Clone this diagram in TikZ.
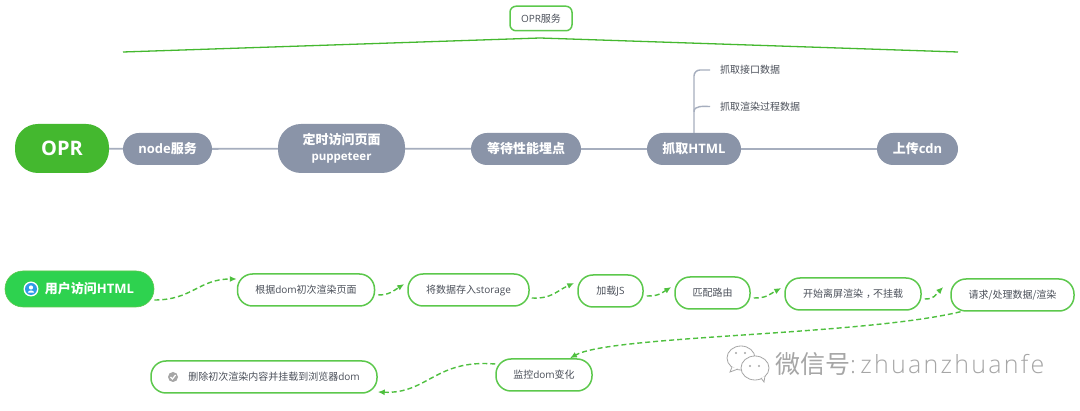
\documentclass[tikz,border=0pt]{standalone}
\usepackage{fontspec}
\usetikzlibrary{arrows.meta,calc}
\setmainfont{Open Sans}
\newfontfamily\cjk{Noto Sans CJK SC}
\newfontfamily\wmlatin[LetterSpace=9]{Open Sans Light}
\newcommand\zh[1]{{\cjk #1}}
\definecolor{grn}{HTML}{5CC84C}
\definecolor{oprgreen}{HTML}{44B82F}
\definecolor{usergreen}{HTML}{2ED24F}
\definecolor{slate}{HTML}{8A94A8}
\definecolor{linegray}{HTML}{A6AEBE}
\definecolor{ink}{HTML}{4A4F59}
\definecolor{dash}{HTML}{4FC03F}
\definecolor{wm}{HTML}{A6A6A6}
\definecolor{iconblue}{HTML}{2E9BE6}
\tikzset{
  x=1pt,y=-1pt,
  pill/.style={inner sep=0pt,align=center,rounded corners=#1},
  root/.style={pill=23pt,fill=oprgreen,text=white,font=\fontsize{20}{22}\selectfont\bfseries,minimum width=94pt,minimum height=49pt},
  main/.style={pill=16pt,fill=slate,text=white,font=\fontsize{13}{15}\selectfont\bfseries,minimum height=32pt},
  bigmain/.style={pill=23pt,fill=slate,text=white,font=\fontsize{13}{17}\selectfont\bfseries,minimum height=49pt},
  flow/.style={pill=15pt,draw=grn,line width=1.5pt,fill=white,text=ink,font=\fontsize{10}{12}\selectfont,minimum height=32pt},
  start/.style={pill=18pt,fill=usergreen,draw=grn,line width=.6pt,text=white,font=\fontsize{13}{15}\selectfont\bfseries,minimum height=36pt},
  leaf/.style={inner sep=0pt,anchor=west,text=ink,font=\fontsize{10}{12}\selectfont},
  link/.style={draw=linegray,line width=1.8pt},
  bracket/.style={draw=oprgreen,line width=1.3pt},
  dashlink/.style={draw=dash,line width=1.4pt,dash pattern=on 5pt off 3pt,-{Latex[length=7pt,width=6pt]}},
}
\begin{document}
\begin{tikzpicture}
\path[use as bounding box,fill=white] (0,0) rectangle (1080,411);

% top bracket
\node[flow,pill=6pt,minimum width=62pt,minimum height=24.5pt] (svc) at (541,18.5) {OPR\zh{服务}};
\coordinate (bl) at (123,52);
\coordinate (bm) at (540,38);
\coordinate (br) at (958,52);
\draw[bracket] (bl) -- (bm) -- (br);

% main row
\node[root] (opr) at (62,148.5) {OPR};
\node[main,minimum width=89pt] (node) at (167.5,149) {node\zh{服务}};
\node[bigmain,minimum width=127pt] (visit) at (341.5,148.5) {\raisebox{-1.5pt}{\zh{定时访问页面}}\\[-1pt]\raisebox{-1.5pt}{\fontsize{11.5}{14}\selectfont puppeteer}};
\node[main,minimum width=110pt] (wait) at (526,149) {\zh{等待性能埋点}};
\node[main,minimum width=94pt] (html) at (694,149) {\zh{抓取}HTML};
\node[main,minimum width=81pt] (cdn) at (917.5,149) {\zh{上传}cdn};
\draw[link] (opr) -- (node);
\draw[link] (node) -- (visit);
\draw[link] (visit) -- (wait);
\draw[link] (wait) -- (html);
\draw[link] (html) -- (cdn);

% leaves
\node[leaf] (t1) at (720,70) {\zh{抓取接口数据}};
\node[leaf] (t2) at (720,106.5) {\zh{抓取渲染过程数据}};
\draw[link,line width=1.4pt,rounded corners=6pt] (html.north) |- ([xshift=-10pt]t1.west);
\draw[link,line width=1.4pt] ($(html.north)+(0,-21)$) to[out=90,in=180] ([xshift=-10pt]t2.west);

% flow row
\node[start,minimum width=149pt] (user) at (79.5,289) {\hspace*{20pt}\zh{用户访问}HTML};
\node[flow,minimum width=137pt] (f1) at (306,290) {\zh{根据}dom\zh{初次渲染页面}};
\node[flow,minimum width=121pt] (f2) at (468.5,290) {\zh{将数据存入}storage};
\node[flow,minimum width=65pt] (f3) at (610.5,291) {\zh{加载}JS};
\node[flow,minimum width=75pt] (f4) at (712.5,293) {\zh{匹配路由}};
\node[flow,minimum width=136pt] (f5) at (853,294) {\zh{开始离屏渲染\kern3pt，\kern-3pt不挂载}};
\node[flow,minimum width=123pt] (f6) at (1012.5,295) {\zh{请求/处理数据/渲染}};
\node[flow,minimum width=96pt] (f7) at (544,375) {\zh{监控}dom\zh{变化}};
\node[flow,minimum width=226pt] (f8) at (264,377) {\hspace*{20pt}\zh{删除初次渲染内容并挂载到浏览器}dom};

% icons
\node[circle,inner sep=0pt,minimum size=15pt,fill=white] (ui) at (31,289) {};
\node[circle,inner sep=0pt,minimum size=12pt,fill=iconblue] (uc) at (ui) {};
\fill[white] ($(uc)+(0,-1.5)$) circle (2.1pt);
\fill[white] ($(uc)+(-3.2,3.6)$) .. controls ($(uc)+(-3,0.8)$) and ($(uc)+(3,0.8)$) .. ($(uc)+(3.2,3.6)$) -- cycle;
\node[circle,inner sep=0pt,minimum size=10pt,fill=black!35] (ci) at (173,377) {};
\draw[white,line width=1.2pt] ($(ci)+(-2.5,0)$) -- ($(ci)+(-0.6,2)$) -- ($(ci)+(2.6,-2)$);

% dashed connectors
\draw[dashlink] ([shift={(0,11)}]user.east) .. controls +(38,0) and +(-38,0) .. ([shift={(0,-11)}]f1.west);
\draw[dashlink] ([shift={(3,5)}]f1.east) .. controls +(11,0) and +(-11,7) .. ([shift={(-3,-6)}]f2.west);
\draw[dashlink] ([shift={(2,8)}]f2.east) .. controls +(20,1) and +(-18,8) .. ([shift={(-3,-8)}]f3.west);
\draw[dashlink] ([shift={(3,5)}]f3.east) .. controls +(11,0) and +(-11,7) .. ([shift={(-3,-6)}]f4.west);
\draw[dashlink] ([shift={(3,5)}]f4.east) .. controls +(13,0) and +(-13,7) .. ([shift={(-3,-6)}]f5.west);
\draw[dashlink] ([shift={(3,5)}]f5.east) .. controls +(10,0) and +(-8,8) .. ([shift={(-7,-8)}]f6.west);
\draw[dashlink] ([xshift=-52pt]f6.south) .. controls +(-100,24) and +(40,-23) .. ([xshift=26pt]f7.north);
\draw[dashlink] ([shift={(0,-11)}]f7.west) .. controls +(-60,-5) and +(50,2) .. ([shift={(0,15)}]f8.east);

% watermark
\begin{scope}[wm,line width=.8pt]
\coordinate (wa) at (741,358);
\coordinate (wb) at (755,368);
\draw[fill=white] (wa) ellipse (14pt and 12pt);
\draw[fill=white] ($(wa)+(-9,9)$) -- ($(wa)+(-11,14)$) -- ($(wa)+(-3,11)$);
\draw[fill=white] (wb) ellipse (14pt and 12pt);
\draw[fill=white] ($(wb)+(6,10)$) -- ($(wb)+(9,14)$) -- ($(wb)+(10,8)$);
\fill ($(wa)+(-5,-5)$) circle (1.2pt) ($(wa)+(4,-5)$) circle (1.2pt) ($(wb)+(-5,-2)$) circle (1.2pt) ($(wb)+(4,-2)$) circle (1.2pt);
\end{scope}
\node[anchor=west,inner sep=0pt,text=wm] (wmtext) at (775,364) {\fontsize{25}{28}\selectfont\zh{微信号}\wmlatin{:\,zhuanzhuanfe}};
\end{tikzpicture}
\end{document}
